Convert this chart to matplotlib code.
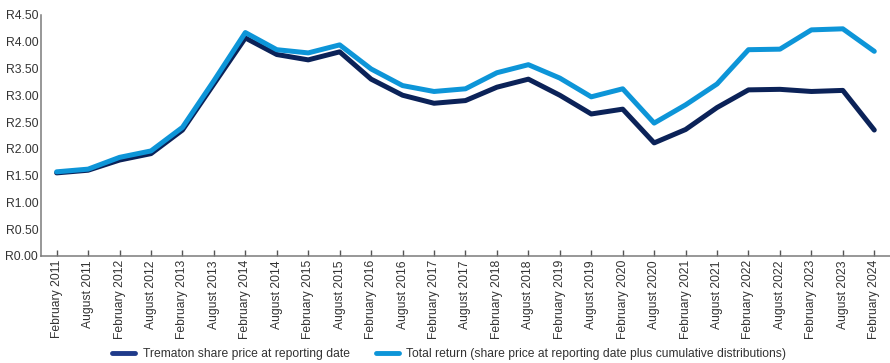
import matplotlib.pyplot as plt
from matplotlib.lines import Line2D

plt.rcParams['font.family'] = ['Liberation Sans', 'DejaVu Sans']

# data
dates = ["February 2011", "August 2011", "February 2012", "August 2012",
         "February 2013", "August 2013", "February 2014", "August 2014",
         "February 2015", "August 2015", "February 2016", "August 2016",
         "February 2017", "August 2017", "February 2018", "August 2018",
         "February 2019", "August 2019", "February 2020", "August 2020",
         "February 2021", "August 2021", "February 2022", "August 2022",
         "February 2023", "August 2023", "February 2024"]
share_price = [1.55, 1.60, 1.79, 1.91, 2.35, 3.21, 4.07, 3.76, 3.66, 3.81,
               3.30, 3.00, 2.85, 2.90, 3.15, 3.30, 3.00, 2.65, 2.74, 2.11,
               2.36, 2.77, 3.10, 3.11, 3.07, 3.09, 2.35]
total_return = [1.57, 1.62, 1.84, 1.96, 2.40, 3.27, 4.17, 3.85, 3.79, 3.94,
                3.49, 3.18, 3.07, 3.12, 3.42, 3.57, 3.32, 2.97, 3.12, 2.48,
                2.82, 3.21, 3.85, 3.86, 4.22, 4.24, 3.82]
y_ticks = [0, 0.5, 1.0, 1.5, 2.0, 2.5, 3.0, 3.5, 4.0, 4.5]

dark = "#0b2258"
light = "#0d95d8"
fs = 8.7

fig = plt.figure(figsize=(8.9, 3.63), dpi=100)
ax = fig.add_axes([0.046, 0.295, 0.954, 0.664])

x = list(range(len(dates)))
ax.plot(x, share_price, color=dark, lw=3.6, solid_capstyle="round", solid_joinstyle="round")
ax.plot(x, total_return, color=light, lw=3.6, solid_capstyle="round", solid_joinstyle="round")

ax.set_xlim(-0.5, len(dates) - 0.5)
ax.set_ylim(0, 4.5)
ax.set_yticks(y_ticks)
ax.set_yticklabels(["R{:.2f}".format(v) for v in y_ticks])
ax.set_xticks(x)
ax.set_xticklabels(dates, rotation=90)

for s in ["top", "right"]:
    ax.spines[s].set_visible(False)
for s in ["left", "bottom"]:
    ax.spines[s].set_color("#7a7a7a")
    ax.spines[s].set_linewidth(1.1)
ax.tick_params(axis="x", direction="in", length=4, width=1, color="#555555",
               labelsize=fs, labelcolor="#333333", pad=3)
ax.tick_params(axis="y", length=0, labelsize=fs, labelcolor="#333333", pad=2)

handles = [Line2D([], [], color="#1f3a8a", lw=3.5, solid_capstyle="round"),
           Line2D([], [], color=light, lw=3.5, solid_capstyle="round")]
labels = ["Trematon share price at reporting date",
          "Total return (share price at reporting date plus cumulative distributions)"]
fig.legend(handles, labels, loc="center", bbox_to_anchor=(0.505, 0.025), ncol=2,
           frameon=False, fontsize=fs, handlelength=1.9, columnspacing=2.2,
           handletextpad=0.6, labelcolor="#333333")

fig.savefig("out.png", dpi=100)
